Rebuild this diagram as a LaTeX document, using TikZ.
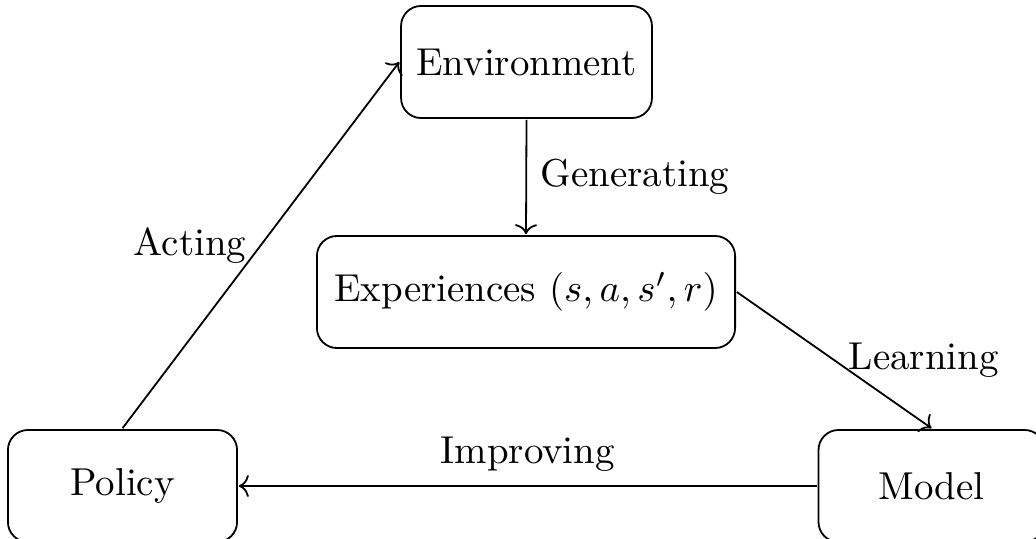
\documentclass[tikz,border=0pt]{standalone}
\usetikzlibrary{arrows.meta}
\begin{document}
\begin{tikzpicture}[x=0.5pt,y=-0.5pt,
  box/.style={draw, rounded corners=10pt, line width=0.9pt, scale=1.945, minimum height=28.8pt, inner sep=3.33pt},
  conn/.style={-{To[length=5pt,width=11pt]}, line width=0.9pt},
  lbl/.style={scale=1.945, inner sep=3.33pt}]
\clip (0,0) rectangle (1036,539);
\useasboundingbox (0,0) rectangle (1036,539);
\node[box, minimum width=64.5pt] (env) at (526.5,62) {Environment};
\node[box, minimum width=107.5pt] (exp) at (526,292) {Experiences $(s,a,s',r)$};
\node[box, minimum width=58.9pt] (pol) at (122.5,486) {Policy};
\node[box, minimum width=58.1pt] (mod) at (931.5,486) {Model};
\draw[conn] (pol.north) -- node[lbl, midway, left] {Acting} (env.west);
\draw[conn] (env.south) -- node[lbl, midway, right] {Generating} (exp.north);
\draw[conn] (exp.east) -- node[lbl, midway, right] {Learning} (mod.north);
\draw[conn] (mod.west) -- node[lbl, midway, above] {Improving} (pol.east);
\end{tikzpicture}
\end{document}
